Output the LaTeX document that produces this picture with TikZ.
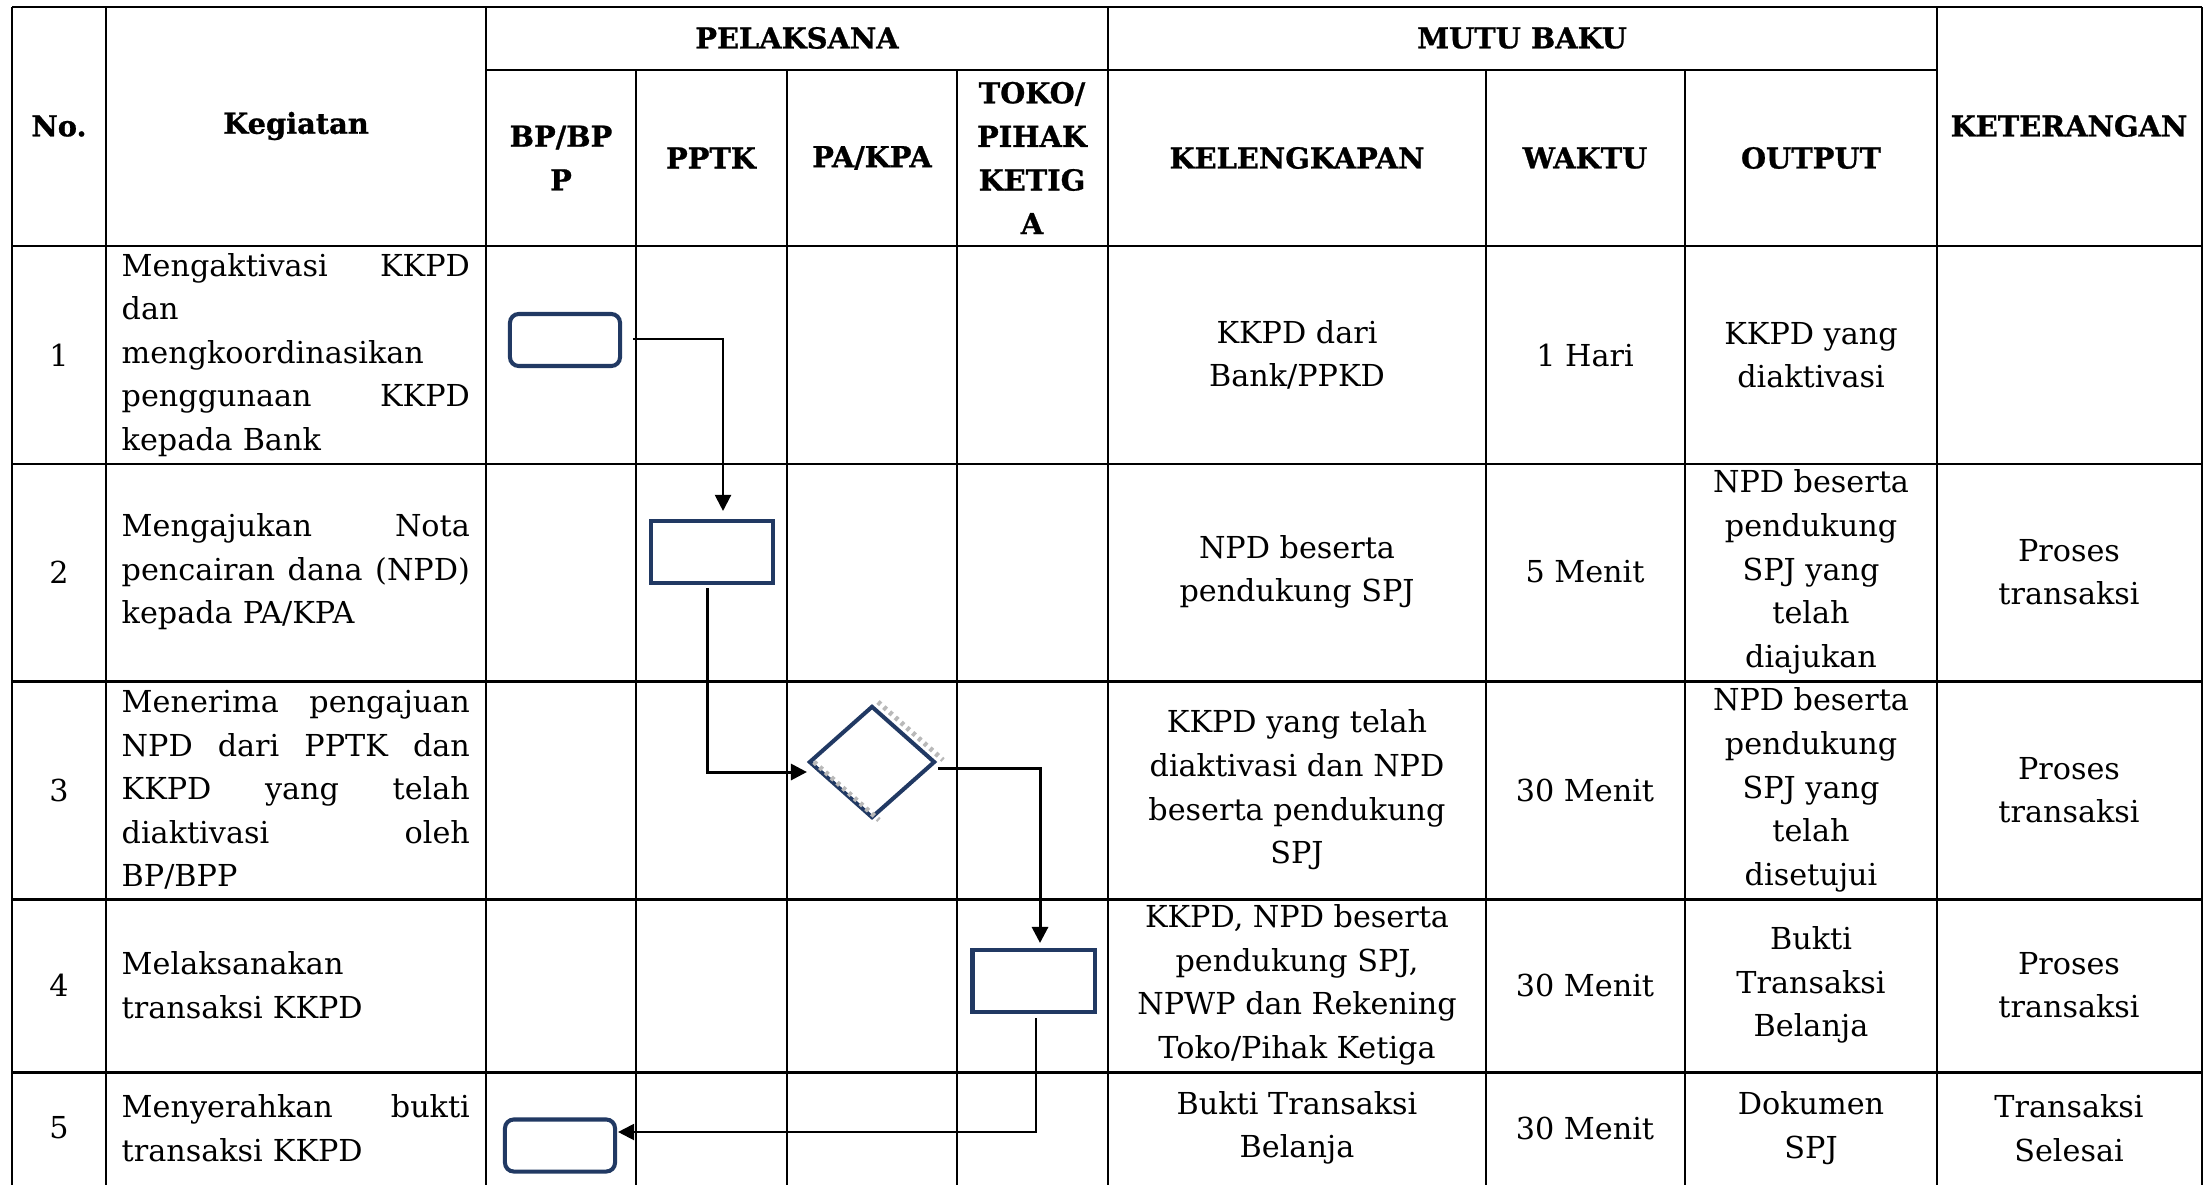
\documentclass[tikz,border=0pt]{standalone}
\usepackage{fontspec}
\setmainfont{DejaVu Serif}
\newfontfamily\hdrfont{DejaVu Serif}[BoldFeatures={FakeBold=0.9}]
\usetikzlibrary{arrows.meta,shapes.geometric}
\definecolor{navy}{RGB}{33,57,99}
\begin{document}
\begin{tikzpicture}[x=0.01cm,y=-0.01cm,
  thinrule/.style={line width=0.55pt},
  thickrule/.style={line width=0.85pt},
  txt/.style={align=center,inner sep=0,font={\fontsize{8.6pt}{12.4pt}\selectfont}},
  hdr/.style={align=center,inner sep=0,font={\fontsize{8.2pt}{12.4pt}\selectfont\hdrfont\bfseries}},
  keg/.style={anchor=west,text width=3.48cm,align=left,inner sep=0,font={\fontsize{8.6pt}{12.4pt}\selectfont}},
  roundbox/.style={draw=navy,line width=1.15pt,rounded corners=2.5pt,fill=white,minimum width=1.10cm,minimum height=0.52cm,inner sep=0},
  procbox/.style={draw=navy,line width=1.15pt,fill=white,minimum width=1.22cm,minimum height=0.62cm,inner sep=0},
  decbox/.style={diamond,draw=navy,line width=1.15pt,fill=white,minimum width=1.26cm,minimum height=1.12cm,inner sep=0},
  flow/.style={-{Triangle[length=0.16cm,width=0.16cm]},line width=0.6pt},
  flowthick/.style={-{Triangle[length=0.16cm,width=0.16cm]},line width=0.85pt},
  ghost/.style={gray!55,line width=1.4pt,dash pattern=on 1pt off 1.2pt}
]
\useasboundingbox (0,0) rectangle (2207,1185);
\fill[white] (0,0) rectangle (2207,1185);

% horizontal rules
\draw[thickrule] (12,7) -- (2202,7);
\draw[thickrule] (486,70) -- (1937,70);
\foreach \yy in {246,464,681,899,1072}
  \draw[thickrule] (12,\yy) -- (2202,\yy);
% vertical rules
\foreach \xx in {12,106,486,1108,1937,2202}
  \draw[thinrule] (\xx,7) -- (\xx,1185);
\foreach \xx in {636,787,957,1486,1685}
  \draw[thinrule] (\xx,70) -- (\xx,1185);

% headers
\node[hdr] (hNo) at (59,126) {No.};
\node[hdr] (hKeg) at (296,126) {Kegiatan};
\node[hdr] (hPel) at (797,38) {PELAKSANA};
\node[hdr] (hMutu) at (1522,38) {MUTU BAKU};
\node[hdr] (hBP) at (561,158) {BP/BP\\P};
\node[hdr] (hPPTK) at (711,158) {PPTK};
\node[hdr] (hPA) at (872,158) {PA/KPA};
\node[hdr] (hToko) at (1032,158) {TOKO/\\PIHAK\\KETIG\\A};
\node[hdr] (hKel) at (1297,158) {KELENGKAPAN};
\node[hdr] (hWaktu) at (1585,158) {WAKTU};
\node[hdr] (hOut) at (1811,158) {OUTPUT};
\node[hdr] (hKet) at (2069,126) {KETERANGAN};

% row 1
\node[txt] (n1) at (59,355) {1};
\node[keg] (k1) at (121,355) {Mengaktivasi\hfill KKPD\\dan\\mengkoordinasikan\\penggunaan\hfill KKPD\\kepada Bank};
\node[txt] (l1) at (1297,355) {KKPD dari\\Bank/PPKD};
\node[txt] (w1) at (1585,355) {1 Hari};
\node[txt] (o1) at (1811,355) {KKPD yang\\diaktivasi};

% row 2
\node[txt] (n2) at (59,572) {2};
\node[keg] (k2) at (121,572) {Mengajukan\hfill Nota\\pencairan\hfill dana\hfill (NPD)\\kepada PA/KPA};
\node[txt] (l2) at (1297,572) {NPD beserta\\pendukung SPJ};
\node[txt] (w2) at (1585,572) {5 Menit};
\node[txt] (o2) at (1811,572) {NPD beserta\\pendukung\\SPJ yang\\telah\\diajukan};
\node[txt] (e2) at (2069,572) {Proses\\transaksi};

% row 3
\node[txt] (n3) at (59,790) {3};
\node[keg] (k3) at (121,790) {Menerima\hfill pengajuan\\NPD\hfill dari\hfill PPTK\hfill dan\\KKPD\hfill yang\hfill telah\\diaktivasi\hfill oleh\\BP/BPP};
\node[txt] (l3) at (1297,790) {KKPD yang telah\\diaktivasi dan NPD\\beserta pendukung\\SPJ};
\node[txt] (w3) at (1585,790) {30 Menit};
\node[txt] (o3) at (1811,790) {NPD beserta\\pendukung\\SPJ yang\\telah\\disetujui};
\node[txt] (e3) at (2069,790) {Proses\\transaksi};

% row 4
\node[txt] (n4) at (59,985) {4};
\node[keg] (k4) at (121,985) {Melaksanakan\\transaksi KKPD};
\node[txt] (l4) at (1297,985) {KKPD, NPD beserta\\pendukung SPJ,\\NPWP dan Rekening\\Toko/Pihak Ketiga};
\node[txt] (w4) at (1585,985) {30 Menit};
\node[txt] (o4) at (1811,985) {Bukti\\Transaksi\\Belanja};
\node[txt] (e4) at (2069,985) {Proses\\transaksi};

% row 5
\node[txt] (n5) at (59,1128) {5};
\node[keg] (k5) at (121,1128) {Menyerahkan\hfill bukti\\transaksi KKPD};
\node[txt] (l5) at (1297,1128) {Bukti Transaksi\\Belanja};
\node[txt] (w5) at (1585,1128) {30 Menit};
\node[txt] (o5) at (1811,1128) {Dokumen\\SPJ};
\node[txt] (e5) at (2069,1128) {Transaksi\\Selesai};

% flow shapes
\node[roundbox] (r1) at (565,340) {};
\node[procbox] (r2) at (712,552) {};
\node[decbox] (dm) at (872,762) {};
\draw[ghost] ([xshift=0.06cm,yshift=0.02cm]dm.north) -- ([xshift=0.06cm,yshift=0.02cm]dm.east);
\draw[ghost] ([xshift=0.07cm]dm.west) -- ([xshift=0.07cm]dm.south);
\node[procbox] (r4) at (1033.5,981) {};
\node[roundbox] (r5) at (560,1145.5) {};

% connectors
\draw[flow] ([xshift=0.11cm,yshift=0.01cm]r1.east) -| ([xshift=0.11cm,yshift=0.08cm]r2.north);
\draw[flowthick] ([xshift=-0.05cm,yshift=-0.03cm]r2.south) |- ([yshift=-0.10cm]dm.west);
\draw[flowthick] ([xshift=0.01cm,yshift=-0.06cm]dm.east) -| ([xshift=0.065cm,yshift=0.05cm]r4.north);
\draw[flow] ([xshift=0.025cm,yshift=-0.04cm]r4.south) |- ([xshift=0.01cm,yshift=0.135cm]r5.east);
\end{tikzpicture}
\end{document}
